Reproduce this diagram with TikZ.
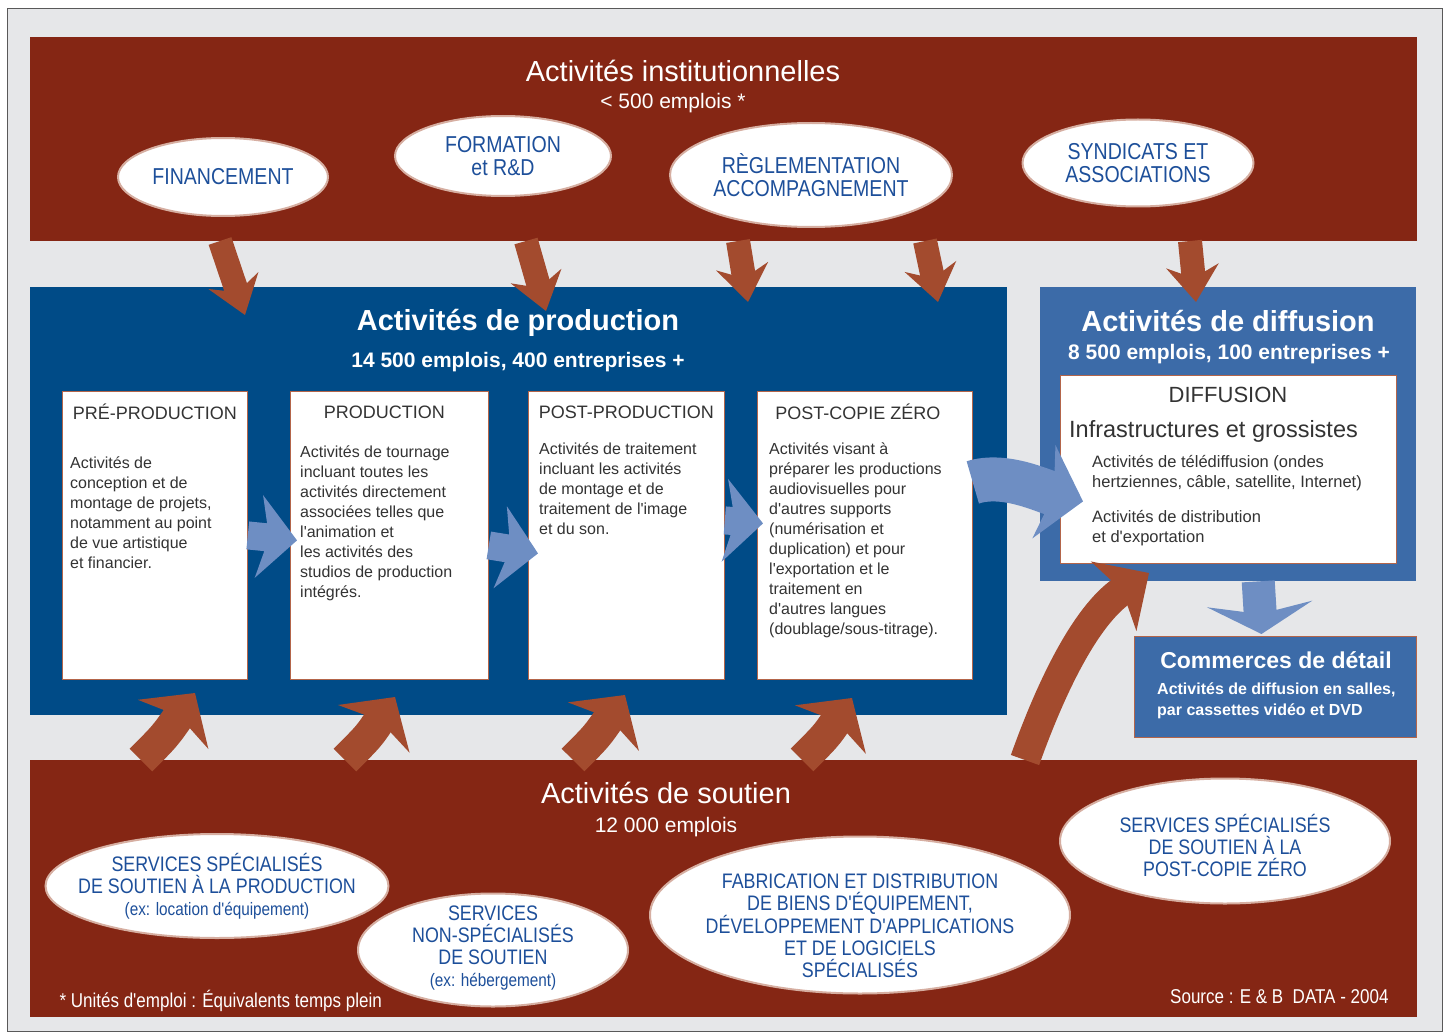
\documentclass[tikz,border=0pt]{standalone}
\usepackage{fontspec}
\setmainfont{Liberation Sans}[Ligatures=TeXOff]
\newfontfamily\narrowsf[FakeStretch=0.85]{Liberation Sans}
\usetikzlibrary{arrows.meta,shapes.geometric,positioning}
\definecolor{bggray}{HTML}{E6E7E9}
\definecolor{instred}{HTML}{852614}
\definecolor{arrbrown}{HTML}{A34B2E}
\definecolor{prodblue}{HTML}{004B87}
\definecolor{diffblue}{HTML}{3C6BA8}
\definecolor{arrblue}{HTML}{6E8EC3}
\definecolor{ovalblue}{HTML}{1D4F9A}
\definecolor{boxedge}{HTML}{B3654A}
\definecolor{bodygray}{HTML}{333333}
\begin{document}
\begin{tikzpicture}[x=1pt,y=-1pt,
  band/.style={fill=instred,inner sep=0,anchor=north west},
  zone/.style={inner sep=0,anchor=north west},
  stagebox/.style={fill=white,draw=boxedge,line width=0.8pt,inner sep=0,anchor=north west,minimum height=288pt},
  stagehead/.style={text=bodygray,font=\fontsize{18}{18}\selectfont},
  stagetext/.style={text=bodygray,font=\fontsize{16}{20}\selectfont,align=left,anchor=north west,inner sep=0},
  oval/.style={ellipse,fill=white,draw=arrbrown!45,line width=2pt,inner sep=0},
  ovaltxt/.style={text=ovalblue,font=\narrowsf\fontsize{23}{23}\selectfont,align=center,inner sep=0},
  lowtxt/.style={text=ovalblue,font=\narrowsf\fontsize{21}{22}\selectfont,align=center,inner sep=0},
  bandtitle/.style={text=white,font=\fontsize{29}{29}\selectfont},
  bandsub/.style={text=white,font=\fontsize{21}{21}\selectfont},
  zonetitle/.style={text=white,font=\bfseries\fontsize{29}{29}\selectfont},
  zonesub/.style={text=white,font=\bfseries\fontsize{21}{21}\selectfont},
  brownarrow/.style={draw=arrbrown,line width=24pt,-{Stealth[length=36pt,width=52pt,inset=12pt]}},
  risearrow/.style={draw=arrbrown,line width=32pt,-{Stealth[length=38pt,width=85pt,inset=10pt]}},
  bluearrow/.style={draw=arrblue,line width=28pt,-{Stealth[length=38pt,width=82pt,inset=10pt]}}]
\useasboundingbox (0,0) rectangle (1448,1035);
\draw[fill=bggray,draw=black!65,line width=1pt] (7,9) rectangle (1442,1031);
% bands
\node[band,minimum width=1387pt,minimum height=204pt] (inst) at (30,37) {};
\node[bandtitle] (insttitle) at (683,71) {Activités institutionnelles};
\node[bandsub] (instsub) at (673,103) {< 500 emplois *};
\node[band,minimum width=1387pt,minimum height=257pt] (sout) at (30,760) {};
\node[bandtitle] (souttitle) at (666,793) {Activités de soutien};
\node[bandsub] (soutsub) at (666,827) {12 000 emplois};
% production
\node[zone,fill=prodblue,minimum width=977pt,minimum height=428pt] (prodzone) at (30,287) {};
\node[zonetitle] (prodtitle) at (518,323) {Activités de production};
\node[zonesub] (prodsub) at (518,362) {14 500 emplois, 400 entreprises +};
\node[stagebox,minimum width=185pt] (pre) at (62,391) {};
\node[stagebox,minimum width=198pt] (prod) at (290,391) {};
\node[stagebox,minimum width=196pt] (post) at (528,391) {};
\node[stagebox,minimum width=215pt] (pcz) at (757,391) {};
\node[stagehead] (prehead) at ([yshift=-21pt]pre.north) {PRÉ-PRODUCTION};
\node[stagehead] (prodhead) at ([xshift=-5pt,yshift=-21pt]prod.north) {PRODUCTION};
\node[stagehead] (posthead) at ([yshift=-21pt]post.north) {POST-PRODUCTION};
\node[stagehead] (pczhead) at ([xshift=-7pt,yshift=-21pt]pcz.north) {POST-COPIE ZÉRO};
\node[stagetext] (pretext) at ([xshift=8pt,yshift=-66pt]pre.north west) {Activités de\\conception et de\\montage de projets,\\notamment au point\\de vue artistique\\et financier.};
\node[stagetext] (prodtext) at ([xshift=10pt,yshift=-55pt]prod.north west) {Activités de tournage\\incluant toutes les\\activités directement\\associées telles que\\l'animation et\\les activités des\\studios de production\\intégrés.};
\node[stagetext] (posttext) at ([xshift=11pt,yshift=-52pt]post.north west) {Activités de traitement\\incluant les activités\\de montage et de\\traitement de l'image\\et du son.};
\node[stagetext] (pcztext) at ([xshift=12pt,yshift=-52pt]pcz.north west) {Activités visant à\\préparer les productions\\audiovisuelles pour\\d'autres supports\\(numérisation et\\duplication) et pour\\l'exportation et le\\traitement en\\d'autres langues\\(doublage/sous-titrage).};
% diffusion
\node[zone,fill=diffblue,minimum width=376pt,minimum height=294pt] (diffzone) at (1040,287) {};
\node[zonetitle] (difftitle) at (1228,321) {Activités de diffusion};
\node[zonesub] (diffsub) at (1229,354) {8 500 emplois, 100 entreprises +};
\node[stagebox,minimum width=336pt,minimum height=188pt] (diffin) at (1060,375) {};
\node[stagehead,font=\fontsize{22}{22}\selectfont] (diffhead) at (1228,395) {DIFFUSION};
\node[stagehead,font=\fontsize{23.5}{23.5}\selectfont,anchor=west,inner sep=0] (infra) at (1069,431) {Infrastructures et grossistes};
\node[stagetext,font=\fontsize{16.5}{20}\selectfont] (difftext) at (1092,455) {Activités de télédiffusion (ondes\\hertziennes, câble, satellite, Internet)\\[15pt]Activités de distribution\\et d'exportation};
\node[zone,fill=diffblue,draw=boxedge,line width=1pt,minimum width=282pt,minimum height=101pt] (comm) at (1134,636) {};
\node[zonetitle,font=\bfseries\fontsize{23}{23}\selectfont] (commtitle) at (1276,660) {Commerces de détail};
\node[zonesub,font=\bfseries\fontsize{16}{21}\selectfont,align=left,anchor=north west,inner sep=0] (commtext) at (1157,683) {Activités de diffusion en salles,\\par cassettes vidéo et DVD};
% ovals
\foreach \kn/\kx/\ky/\kw/\kh/\kt in {fin/223/177/210/78/{FINANCEMENT},form/503/156/216/80/{FORMATION\\et R\&D},regl/811/175/282/104/{RÈGLEMENTATION\\ACCOMPAGNEMENT},synd/1138/163/231/87/{SYNDICATS ET\\ASSOCIATIONS}}{
  \node[oval,minimum width=\kw pt,minimum height=\kh pt] (\kn) at (\kx,\ky) {};
  \node[ovaltxt] (\kn txt) at (\kn) {\kt};}
\foreach \kn/\kx/\ky/\kw/\kh in {sprod/217/886/343/104,snon/493/950/270/113,fab/860/915/420/157,spcz/1225/841/330/125}{
  \node[oval,minimum width=\kw pt,minimum height=\kh pt] (\kn) at (\kx,\ky) {};}
\node[lowtxt] (sprodtxt) at (sprod) {SERVICES SPÉCIALISÉS\\DE SOUTIEN À LA PRODUCTION\\{\fontsize{18}{22}\selectfont (ex: location d'équipement)}};
\node[lowtxt] (snontxt) at ([yshift=2pt]snon) {SERVICES\\NON-SPÉCIALISÉS\\DE SOUTIEN\\{\fontsize{18}{22}\selectfont (ex: hébergement)}};
\node[lowtxt] (fabtxt) at ([yshift=-11pt]fab) {FABRICATION ET DISTRIBUTION\\DE BIENS D'ÉQUIPEMENT,\\DÉVELOPPEMENT D'APPLICATIONS\\ET DE LOGICIELS\\SPÉCIALISÉS};
\node[lowtxt] (spcztxt) at ([yshift=-4pt]spcz) {SERVICES SPÉCIALISÉS\\DE SOUTIEN À LA\\POST-COPIE ZÉRO};
\node[text=white,font=\narrowsf\fontsize{20}{20}\selectfont,anchor=west] (note) at (56,1001) {* Unités d'emploi : Équivalents temps plein};
\node[text=white,font=\narrowsf\fontsize{20}{20}\selectfont,anchor=east] (source) at (1392,997) {Source : E \& B\ \ DATA - 2004};
% arrows from the institutional band
\foreach \kn/\ka/\kb/\kd in {1/220/245/315,2/526/546/311,3/738/748/302,4/925/938/302,5/1190/1196/302}{
  \coordinate (up\kn) at (\ka,241);
  \coordinate (dn\kn) at (\kb,\kd);
  \draw[brownarrow] (up\kn) -- (dn\kn);}
% arrows from the support band
\foreach \kn/\ka/\kb/\kd in {1/141/195/693,2/345/395/697,3/573/625/695,4/802/852/698}{
  \pgfmathsetmacro{\kc}{\ka+24}
  \coordinate (bs\kn) at (\ka,760);
  \coordinate (bt\kn) at (\kb,\kd);
  \draw[risearrow] (bs\kn) .. controls (\kc,736) .. (bt\kn);}
\coordinate (sup) at (1025,760);
\coordinate (sdn) at (1149,573);
\draw[risearrow,line width=30pt,-{Stealth[length=42pt,width=82pt,inset=10pt]}] (sup) .. controls (1050,690) and (1085,615) .. (sdn);
% blue arrows
\draw[bluearrow] (pre.east) -- ([xshift=7pt,yshift=-5pt]prod.west);
\draw[bluearrow] ([yshift=-10pt]prod.east) -- ([xshift=10pt,yshift=-18pt]post.west);
\draw[bluearrow] ([yshift=15pt]post.east) -- ([xshift=6pt,yshift=12pt]pcz.west);
\draw[bluearrow,line width=44pt,-{Stealth[length=40pt,width=95pt,inset=10pt]}] ([yshift=53pt]pcz.east) .. controls (1005,472) and (1045,492) .. ([xshift=23pt,yshift=-32pt]diffin.west);
\draw[bluearrow,line width=33pt,-{Stealth[length=30pt,width=105pt,inset=10pt]}] ([xshift=30pt]diffzone.south) -- ([xshift=-14pt,yshift=2pt]comm.north);
\end{tikzpicture}
\end{document}
